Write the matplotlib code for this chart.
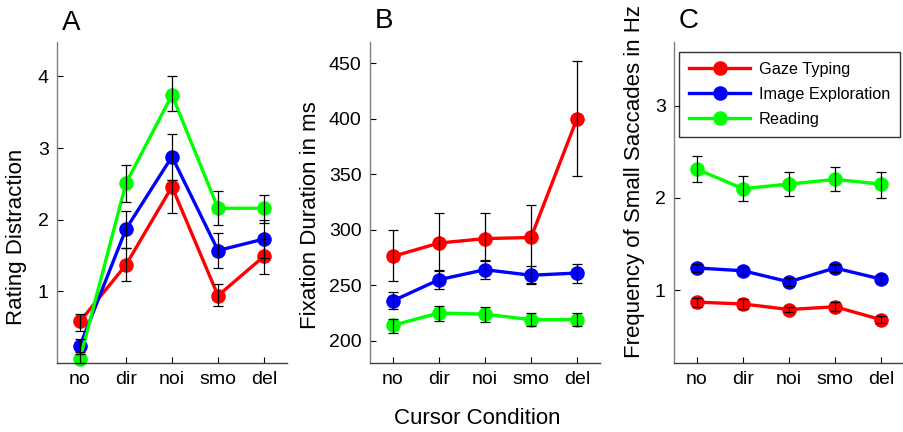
import matplotlib
matplotlib.use("Agg")
import matplotlib.pyplot as plt
import numpy as np

plt.rcParams['font.family'] = ['Liberation Sans', 'DejaVu Sans']

conditions = ["no", "dir", "noi", "smo", "del"]
series_names = ["Gaze Typing", "Image Exploration", "Reading"]
series_colors = ["#ff0000", "#0000ff", "#00ff00"]

# Panel A: Rating Distraction (mean, lower, upper)
rating_gaze = [0.58, 1.37, 2.46, 0.94, 1.49]
rating_gaze_lo = [0.45, 1.15, 2.10, 0.80, 1.24]
rating_gaze_hi = [0.68, 1.60, 2.55, 1.10, 1.73]
rating_image = [0.24, 1.87, 2.88, 1.57, 1.73]
rating_image_lo = [0.12, 1.60, 2.56, 1.33, 1.46]
rating_image_hi = [0.33, 2.12, 3.20, 1.82, 2.00]
rating_read = [0.06, 2.51, 3.74, 2.16, 2.16]
rating_read_lo = [0.00, 2.25, 3.52, 1.92, 1.95]
rating_read_hi = [0.15, 2.76, 4.00, 2.40, 2.35]

# Panel B: Fixation Duration in ms
fix_gaze = [276, 288, 292, 293, 400]
fix_gaze_lo = [254, 263, 272, 252, 348]
fix_gaze_hi = [300, 315, 315, 322, 452]
fix_image = [236, 255, 264, 259, 261]
fix_image_lo = [229, 247, 256, 251, 252]
fix_image_hi = [244, 264, 273, 267, 269]
fix_read = [214, 225, 224, 219, 219]
fix_read_lo = [207, 218, 217, 213, 213]
fix_read_hi = [220, 231, 230, 225, 225]

# Panel C: Frequency of Small Saccades in Hz
freq_gaze = [0.87, 0.85, 0.79, 0.82, 0.68]
freq_gaze_lo = [0.82, 0.80, 0.76, 0.77, 0.64]
freq_gaze_hi = [0.92, 0.90, 0.82, 0.87, 0.72]
freq_image = [1.24, 1.21, 1.09, 1.24, 1.12]
freq_image_lo = [1.20, 1.16, 1.04, 1.20, 1.08]
freq_image_hi = [1.28, 1.25, 1.13, 1.28, 1.16]
freq_read = [2.31, 2.10, 2.15, 2.20, 2.15]
freq_read_lo = [2.17, 1.97, 2.02, 2.07, 2.00]
freq_read_hi = [2.45, 2.24, 2.28, 2.34, 2.28]

panels = [
    dict(letter="A", ylabel="Rating Distraction", ylim=(0, 4.48), yticks=[1, 2, 3, 4],
         data=[(rating_gaze, rating_gaze_lo, rating_gaze_hi),
               (rating_image, rating_image_lo, rating_image_hi),
               (rating_read, rating_read_lo, rating_read_hi)]),
    dict(letter="B", ylabel="Fixation Duration in ms", ylim=(180, 469), yticks=[200, 250, 300, 350, 400, 450],
         data=[(fix_gaze, fix_gaze_lo, fix_gaze_hi),
               (fix_image, fix_image_lo, fix_image_hi),
               (fix_read, fix_read_lo, fix_read_hi)]),
    dict(letter="C", ylabel="Frequency of Small Saccades in Hz", ylim=(0.21, 3.69), yticks=[1, 2, 3],
         data=[(freq_gaze, freq_gaze_lo, freq_gaze_hi),
               (freq_image, freq_image_lo, freq_image_hi),
               (freq_read, freq_read_lo, freq_read_hi)]),
]

W, H = 904, 432
fig = plt.figure(figsize=(W / 100, H / 100), dpi=100)

ax_lefts = [57, 370, 674]
ax_width = 230
ax_top, ax_bottom = 42, 363
ylabel_x = [17, 311, 635]
ylabel_y = [237, 215, 181]
letter_pos = [(62, 30), (375, 28), (679, 28)]

x = np.arange(1, len(conditions) + 1)
handles = []
for i, p in enumerate(panels):
    ax = fig.add_axes([ax_lefts[i] / W, 1 - ax_bottom / H, ax_width / W, (ax_bottom - ax_top) / H])
    for (m, lo, hi), color, name in zip(p["data"], series_colors, series_names):
        m = np.array(m, float); lo = np.array(lo, float); hi = np.array(hi, float)
        h, = ax.plot(x, m, '-o', color=color, lw=2.4, markersize=10.5, markeredgewidth=0,
                     label=name, zorder=2, clip_on=False)
        ax.errorbar(x, m, yerr=[m - lo, hi - m], fmt='none', ecolor='black', elinewidth=0.9,
                    capsize=3.5, capthick=0.9, zorder=3, clip_on=False)
        if i == 2:
            handles.append(h)
    ax.set_xlim(0.5, 5.5)
    ax.set_ylim(*p["ylim"])
    ax.set_xticks(x)
    ax.set_xticklabels(conditions)
    ax.set_yticks(p["yticks"])
    ax.tick_params(direction='in', length=4, width=0.8, labelsize=14, colors='black', pad=6)
    ax.spines['top'].set_visible(False)
    ax.spines['right'].set_visible(False)
    ax.spines['left'].set_color('#808080')
    ax.spines['bottom'].set_color('#404040')
    ax.spines['left'].set_linewidth(1.0)
    ax.spines['bottom'].set_linewidth(1.0)
    ax.patch.set_alpha(0)
    fig.text(ylabel_x[i] / W, 1 - ylabel_y[i] / H, p["ylabel"], rotation=90, ha='center', va='center',
             fontsize=16)
    lx, ly = letter_pos[i]
    fig.text(lx / W, 1 - ly / H, p["letter"], ha='left', va='baseline', fontsize=20)

fig.text(477 / W, 1 - 418 / H, "Cursor Condition", ha='center', va='center', fontsize=16)

leg = fig.legend(handles=handles, labels=series_names, loc='upper left',
                 bbox_to_anchor=(679 / W, 1 - 52 / H), bbox_transform=fig.transFigure,
                 fontsize=11.7, frameon=True, fancybox=False, handlelength=3.8,
                 borderpad=0.6, labelspacing=0.62, handletextpad=0.5, borderaxespad=0)
leg.get_frame().set_edgecolor('black')
leg.get_frame().set_linewidth(1.0)

fig.savefig("out.png", dpi=100)
